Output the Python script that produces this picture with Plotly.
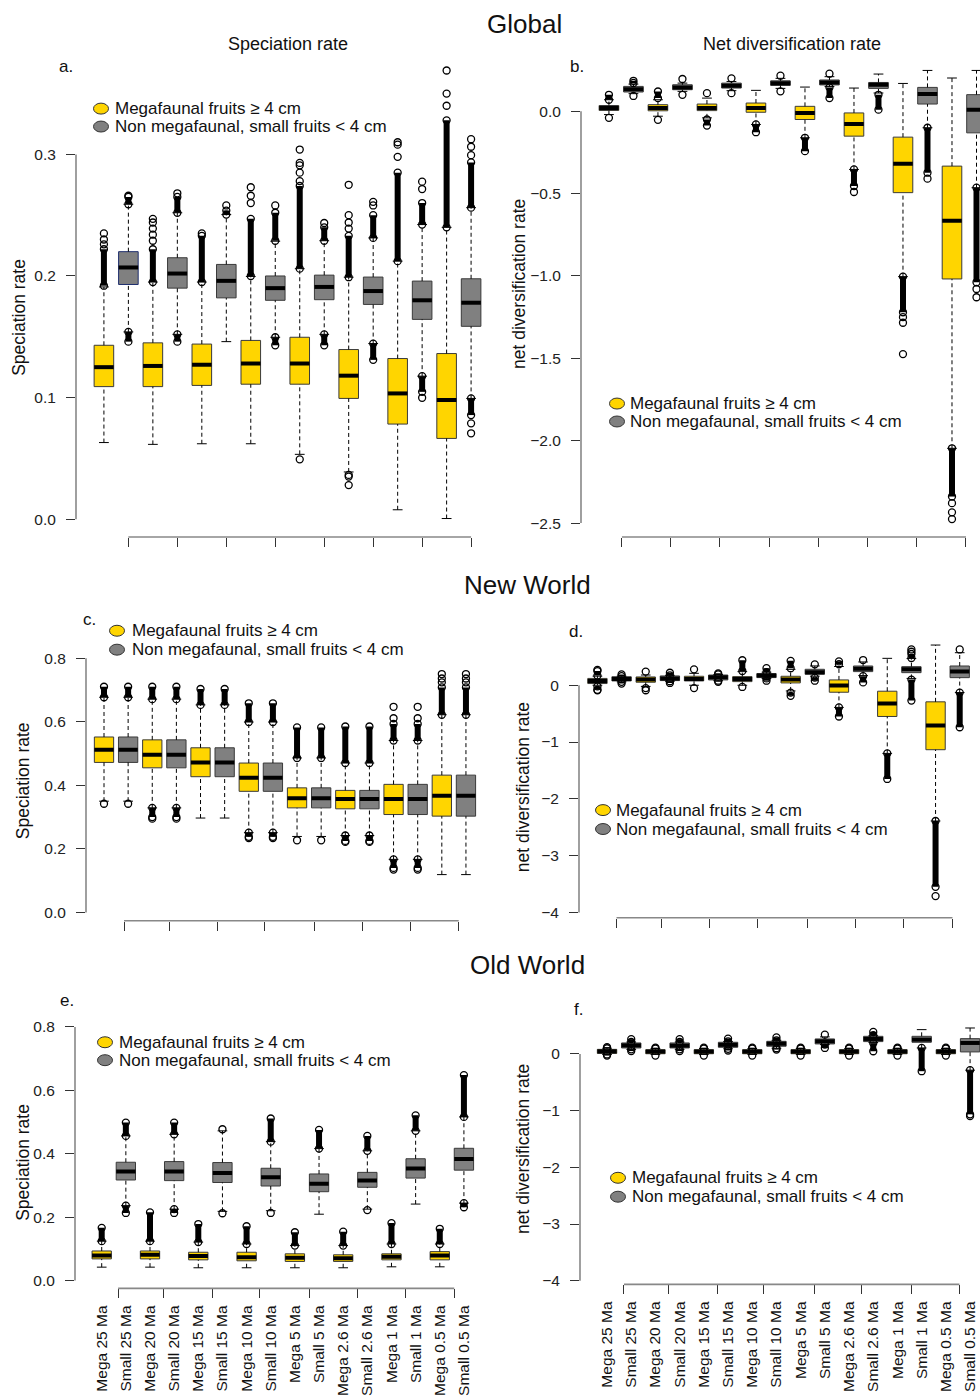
import plotly.graph_objects as go

# ---------------- data ----------------
categories = ["Mega 25 Ma", "Small 25 Ma", "Mega 20 Ma", "Small 20 Ma",
              "Mega 15 Ma", "Small 15 Ma", "Mega 10 Ma", "Small 10 Ma",
              "Mega 5 Ma", "Small 5 Ma", "Mega 2.6 Ma", "Small 2.6 Ma",
              "Mega 1 Ma", "Small 1 Ma", "Mega 0.5 Ma", "Small 0.5 Ma"]
positions = list(range(1, len(categories) + 1))

legend_labels = ["Megafaunal fruits \u2265 4 cm", "Non megafaunal, small fruits < 4 cm"]

# Panel a: Global speciation
a_lo  = [0.063, 0.154, 0.0615, 0.152, 0.062, 0.146, 0.062, 0.1496, 0.0533, 0.152, 0.0388, 0.1444, 0.0077, 0.1176, 0.0005, 0.0993]
a_q1  = [0.109, 0.193, 0.109, 0.190, 0.110, 0.182, 0.111, 0.180, 0.111, 0.1805, 0.0993, 0.1766, 0.0782, 0.1643, 0.0664, 0.1586]
a_med = [0.125, 0.207, 0.126, 0.202, 0.127, 0.196, 0.128, 0.190, 0.128, 0.191, 0.118, 0.1876, 0.1034, 0.180, 0.098, 0.178]
a_q3  = [0.143, 0.220, 0.145, 0.215, 0.144, 0.2095, 0.147, 0.200, 0.1496, 0.2007, 0.1395, 0.1991, 0.1321, 0.1958, 0.1362, 0.1977]
a_hi  = [0.191, 0.259, 0.195, 0.252, 0.195, 0.2505, 0.1996, 0.2286, 0.206, 0.229, 0.199, 0.2313, 0.2122, 0.2423, 0.240, 0.2562]
a_dense = [[[0.192, 0.222]], [[0.259, 0.265], [0.146, 0.154]], [[0.195, 0.222]], [[0.252, 0.265], [0.146, 0.152]],
           [[0.195, 0.233]], [[0.2505, 0.2538]], [[0.200, 0.247]], [[0.229, 0.252], [0.143, 0.1496]],
           [[0.206, 0.274]], [[0.229, 0.240], [0.143, 0.152]], [[0.199, 0.233]], [[0.2313, 0.250], [0.131, 0.1444]],
           [[0.2122, 0.285]], [[0.2423, 0.260], [0.1047, 0.1176]], [[0.240, 0.328]], [[0.2562, 0.2934], [0.0856, 0.0993]]]
a_out = [[0.226, 0.230, 0.235], [0.266], [0.229, 0.234, 0.239, 0.244, 0.247], [0.268],
         [0.235], [0.258], [0.260, 0.266, 0.273], [0.258],
         [0.278, 0.285, 0.291, 0.293, 0.304, 0.0492], [0.2436], [0.239, 0.244, 0.250, 0.275, 0.0364, 0.035, 0.028], [0.258, 0.261],
         [0.298, 0.308, 0.310], [0.2715, 0.2776, 0.0998], [0.340, 0.350, 0.369], [0.2994, 0.3063, 0.3125, 0.0788, 0.0706]]

# Panel b: Global net diversification
b_lo  = [-0.02, 0.107, -0.03, 0.121, -0.04, 0.125, -0.08, 0.139, -0.161, 0.15, -0.353, 0.111, -1.004, -0.1, -2.046, -0.464]
b_q1  = [0.005, 0.117, 0.003, 0.131, 0.004, 0.141, -0.006, 0.157, -0.05, 0.16, -0.151, 0.139, -0.494, 0.044, -1.018, -0.131]
b_med = [0.02, 0.134, 0.02, 0.145, 0.02, 0.155, 0.02, 0.17, -0.01, 0.175, -0.077, 0.161, -0.319, 0.105, -0.665, 0.01]
b_q3  = [0.035, 0.151, 0.04, 0.161, 0.044, 0.171, 0.05, 0.185, 0.03, 0.19, -0.01, 0.175, -0.157, 0.145, -0.333, 0.101]
b_hi  = [0.07, 0.165, 0.07, 0.171, 0.08, 0.181, 0.127, 0.2, 0.147, 0.21, 0.141, 0.226, 0.169, 0.248, 0.202, 0.248]
b_dense = [[[0.07, 0.10]], [[0.172, 0.185]], [[0.08, 0.12]], [],
           [[-0.087, -0.05]], [], [[-0.127, -0.08]], [],
           [[-0.242, -0.161]], [[0.08, 0.145]], [[-0.454, -0.353]], [[0.01, 0.1]],
           [[-1.22, -1.004]], [[-0.373, -0.1]], [[-2.339, -2.046]], [[-1.038, -0.464]]]
b_out = [[-0.04], [0.093], [-0.052], [0.196, 0.10],
         [0.11], [0.2, 0.11], [], [0.216, 0.121],
         [], [0.228], [-0.49], [],
         [-1.25, -1.284, -1.474], [-0.409], [-2.379, -2.435, -2.476], [-1.079, -1.129]]

# Panel c: New World speciation
c_lo  = [0.35, 0.35, 0.329, 0.329, 0.297, 0.297, 0.251, 0.251, 0.239, 0.239, 0.242, 0.242, 0.167, 0.167, 0.119, 0.119]
c_q1  = [0.472, 0.472, 0.455, 0.455, 0.427, 0.427, 0.381, 0.381, 0.329, 0.329, 0.326, 0.326, 0.308, 0.308, 0.303, 0.303]
c_med = [0.512, 0.512, 0.496, 0.496, 0.472, 0.472, 0.424, 0.424, 0.359, 0.359, 0.357, 0.357, 0.357, 0.357, 0.367, 0.367]
c_q3  = [0.552, 0.552, 0.543, 0.543, 0.518, 0.518, 0.47, 0.47, 0.392, 0.392, 0.384, 0.384, 0.403, 0.403, 0.432, 0.432]
c_hi  = [0.677, 0.677, 0.671, 0.671, 0.653, 0.653, 0.599, 0.599, 0.486, 0.486, 0.47, 0.47, 0.541, 0.541, 0.622, 0.622]
c_dense = [[[0.677, 0.71]], [[0.677, 0.71]], [[0.671, 0.71], [0.30, 0.329]], [[0.671, 0.71], [0.30, 0.329]],
           [[0.653, 0.703]], [[0.653, 0.703]], [[0.599, 0.658], [0.238, 0.251]], [[0.599, 0.658], [0.238, 0.251]],
           [[0.486, 0.582]], [[0.486, 0.582]], [[0.47, 0.585], [0.225, 0.242]], [[0.47, 0.585], [0.225, 0.242]],
           [[0.541, 0.593], [0.14, 0.167]], [[0.541, 0.593], [0.14, 0.167]], [[0.622, 0.708]], [[0.622, 0.708]]]
c_out = [[0.342], [0.342], [0.295], [0.295],
         [], [], [0.234], [0.234],
         [0.227], [0.227], [0.222], [0.222],
         [0.611, 0.647, 0.135], [0.611, 0.647, 0.135], [0.724, 0.736, 0.75], [0.724, 0.736, 0.75]]

# Panel d: New World net diversification
d_lo  = [0.0, 0.06, -0.02, 0.07, 0.0, 0.08, 0.0, 0.12, -0.1, 0.16, -0.39, 0.17, -1.2, 0.12, -2.39, -0.129]
d_q1  = [0.03, 0.076, 0.053, 0.082, 0.076, 0.094, 0.064, 0.135, 0.041, 0.193, -0.123, 0.24, -0.55, 0.222, -1.135, 0.134]
d_med = [0.075, 0.11, 0.1, 0.12, 0.11, 0.14, 0.11, 0.17, 0.1, 0.23, -0.006, 0.29, -0.322, 0.28, -0.708, 0.24]
d_q3  = [0.12, 0.15, 0.146, 0.164, 0.158, 0.18, 0.152, 0.205, 0.158, 0.281, 0.094, 0.339, -0.105, 0.327, -0.292, 0.339]
d_hi  = [0.16, 0.16, 0.18, 0.175, 0.21, 0.19, 0.24, 0.23, 0.28, 0.34, 0.33, 0.41, 0.474, 0.47, 0.708, 0.573]
d_dense = [[[0.17, 0.25], [-0.08, -0.02]], [[0.16, 0.19], [0.03, 0.06]], [], [[0.175, 0.22], [0.04, 0.07]],
           [], [[0.19, 0.21], [0.06, 0.08]], [[0.25, 0.44]], [[0.23, 0.3], [0.08, 0.12]],
           [[0.3, 0.43], [-0.187, -0.13]], [[0.08, 0.134]], [[0.37, 0.42], [-0.55, -0.39]], [[0.05, 0.16]],
           [[-1.65, -1.2]], [[0.48, 0.55], [-0.27, 0.1]], [[-3.55, -2.39]], [[-0.74, -0.129]]]
d_out = [[0.27, -0.09], [], [0.24, -0.05, -0.088], [],
         [0.28, -0.05], [], [-0.03], [],
         [], [0.368], [], [0.444],
         [], [0.59, 0.63], [-3.713], [0.63]]

# Panel e: Old World speciation
e_lo  = [0.042, 0.236, 0.042, 0.225, 0.04, 0.218, 0.04, 0.22, 0.04, 0.209, 0.04, 0.225, 0.043, 0.241, 0.043, 0.244]
e_q1  = [0.068, 0.317, 0.068, 0.315, 0.065, 0.309, 0.062, 0.298, 0.06, 0.28, 0.06, 0.294, 0.065, 0.323, 0.065, 0.348]
e_med = [0.079, 0.344, 0.081, 0.344, 0.077, 0.339, 0.073, 0.326, 0.072, 0.305, 0.07, 0.315, 0.075, 0.353, 0.079, 0.383]
e_q3  = [0.093, 0.373, 0.093, 0.375, 0.089, 0.372, 0.089, 0.354, 0.084, 0.336, 0.081, 0.341, 0.084, 0.384, 0.091, 0.417]
e_hi  = [0.124, 0.456, 0.124, 0.461, 0.121, 0.472, 0.115, 0.438, 0.11, 0.416, 0.11, 0.409, 0.115, 0.472, 0.115, 0.516]
e_dense = [[[0.124, 0.166]], [[0.456, 0.498], [0.213, 0.236]], [[0.124, 0.215]], [[0.461, 0.498], [0.213, 0.225]],
           [[0.121, 0.178]], [], [[0.115, 0.171]], [[0.438, 0.511]],
           [[0.11, 0.152]], [[0.416, 0.475]], [[0.11, 0.154]], [[0.409, 0.456]],
           [[0.115, 0.181]], [[0.472, 0.521]], [[0.115, 0.163]], [[0.516, 0.648], [0.231, 0.244]]]
e_out = [[], [], [], [],
         [], [0.477, 0.212], [], [0.213],
         [], [], [], [0.222],
         [], [], [], []]

# Panel f: Old World net diversification
f_lo  = [-0.01, 0.08, -0.01, 0.08, -0.01, 0.09, -0.01, 0.1, -0.01, 0.164, -0.01, 0.2, -0.01, 0.105, -0.01, -0.287]
f_q1  = [0.008, 0.105, 0.003, 0.105, 0.003, 0.117, 0.003, 0.135, 0.003, 0.176, 0.003, 0.217, 0.003, 0.205, 0.003, 0.035]
f_med = [0.045, 0.15, 0.04, 0.146, 0.04, 0.16, 0.04, 0.18, 0.04, 0.222, 0.04, 0.264, 0.04, 0.252, 0.04, 0.193]
f_q3  = [0.08, 0.193, 0.075, 0.193, 0.075, 0.205, 0.075, 0.222, 0.075, 0.264, 0.075, 0.31, 0.075, 0.31, 0.075, 0.269]
f_hi  = [0.1, 0.21, 0.095, 0.21, 0.095, 0.22, 0.095, 0.24, 0.095, 0.3, 0.095, 0.32, 0.095, 0.428, 0.095, 0.457]
f_dense = [[[0.1, 0.12], [-0.03, -0.01]], [[0.21, 0.26], [0.05, 0.08]], [[0.095, 0.11]], [[0.21, 0.26], [0.05, 0.08]],
           [[0.095, 0.11]], [[0.22, 0.27], [0.06, 0.09]], [[0.095, 0.11]], [[0.24, 0.29], [0.076, 0.1]],
           [[0.095, 0.11]], [[0.105, 0.164]], [[0.095, 0.11]], [[0.33, 0.387], [0.047, 0.19]],
           [[0.095, 0.11]], [[-0.305, 0.105]], [[0.095, 0.11]], [[-1.066, -0.287]]]
f_out = [[], [], [-0.03], [],
         [-0.03], [], [-0.03], [],
         [-0.03], [0.34], [-0.03], [],
         [-0.03], [], [-0.03], [-1.095]]

# axis tick values
a_yticks = [0.0, 0.1, 0.2, 0.3]
b_yticks = [0.0, -0.5, -1.0, -1.5, -2.0, -2.5]
c_yticks = [0.0, 0.2, 0.4, 0.6, 0.8]
d_yticks = [0, -1, -2, -3, -4]
e_yticks = [0.0, 0.2, 0.4, 0.6, 0.8]
f_yticks = [0, -1, -2, -3, -4]
a_xticks = [2, 4, 6, 8, 10, 12, 14, 16]
b_xticks = [1.53, 3.53, 5.53, 7.57, 9.57, 11.57, 13.57, 15.57]
c_xticks = [1.83, 3.71, 5.70, 7.65, 9.72, 11.70, 13.70, 15.70]
d_xticks = [1.79, 3.66, 5.66, 7.63, 9.69, 11.69, 13.68, 15.70]
e_xticks = [1.68, 3.56, 5.59, 7.52, 9.62, 11.60, 13.59, 15.60]
f_xticks = [1.70, 3.54, 5.57, 7.48, 9.56, 11.53, 13.56, 15.56]

# ---------------- styling ----------------
YELLOW = "#FFD500"
GRAY = "#808080"
BORDER = "#3a3a3a"
FONT = "Liberation Sans, Arial, Helvetica, sans-serif"
W, H = 980, 1398

# panel geometry in pixels: (left, right, top, bottom), x range, y range
panels = {
    1: dict(px=(76, 499, 51, 539), xr=[-0.14, 17.14], yr=[-0.01475, 0.3852]),
    2: dict(px=(581, 980, 52, 539), xr=[-0.14, 16.143], yr=[-2.585, 0.361]),
    3: dict(px=(86, 484, 650, 924), xr=[0.254, 16.748], yr=[-0.026, 0.833]),
    4: dict(px=(579, 980, 640, 921), xr=[0.237, 16.84], yr=[-4.093, 0.837]),
    5: dict(px=(75, 490, 1022, 1293), xr=[-0.106, 17.08], yr=[-0.025, 0.827]),
    6: dict(px=(580, 980, 1010, 1289), xr=[-0.117, 16.41], yr=[-4.065, 0.838]),
}

fig = go.Figure()


def axname(n, letter):
    return letter if n == 1 else f"{letter}{n}"


def add_panel(n, lo, q1, med, q3, hi, dense, out, small_border=None):
    xa, ya = axname(n, "x"), axname(n, "y")
    common = dict(xaxis=xa, yaxis=ya, showlegend=False, hoverinfo="skip")
    for grp, color, name in ((0, YELLOW, legend_labels[0]), (1, GRAY, legend_labels[1])):
        idx = [i for i in range(len(positions)) if i % 2 == grp]
        lcol = BORDER
        if grp == 1 and small_border is not None:
            lcol = [small_border[k] for k in range(len(idx))]
        fig.add_trace(go.Bar(
            x=[positions[i] for i in idx],
            base=[q1[i] for i in idx],
            y=[q3[i] - q1[i] for i in idx],
            width=0.8, name=name,
            marker=dict(color=color, line=dict(color=lcol, width=1)),
            **common))
    # dashed whiskers
    wx, wy = [], []
    for i, p in enumerate(positions):
        wx += [p, p, None, p, p, None]
        wy += [lo[i], q1[i], None, q3[i], hi[i], None]
    fig.add_trace(go.Scatter(x=wx, y=wy, mode="lines",
                             line=dict(color="black", width=1, dash="4px,3px"), **common))
    # staples
    sx, sy = [], []
    for i, p in enumerate(positions):
        sx += [p - 0.2, p + 0.2, None, p - 0.2, p + 0.2, None]
        sy += [lo[i], lo[i], None, hi[i], hi[i], None]
    fig.add_trace(go.Scatter(x=sx, y=sy, mode="lines",
                             line=dict(color="black", width=1), **common))
    # medians
    mx, my = [], []
    for i, p in enumerate(positions):
        mx += [p - 0.4, p + 0.4, None]
        my += [med[i], med[i], None]
    fig.add_trace(go.Scatter(x=mx, y=my, mode="lines",
                             line=dict(color="black", width=4), **common))
    # dense runs of outliers (overlapping circles)
    dx, dy, ex, ey = [], [], [], []
    for i, p in enumerate(positions):
        for lo_v, hi_v in dense[i]:
            dx += [p, p, None]
            dy += [lo_v, hi_v, None]
            ex += [p, p]
            ey += [lo_v, hi_v]
    fig.add_trace(go.Scatter(x=dx, y=dy, mode="lines",
                             line=dict(color="black", width=6), **common))
    # individual outliers
    ox, oy = [], []
    for i, p in enumerate(positions):
        for v in out[i]:
            ox.append(p)
            oy.append(v)
    fig.add_trace(go.Scatter(x=ox + ex, y=oy + ey, mode="markers",
                             marker=dict(symbol="circle-open", size=7, color="black",
                                         line=dict(width=1.3)), **common))


small_border_a = ["#1f2f6e"] + [BORDER] * 7
add_panel(1, a_lo, a_q1, a_med, a_q3, a_hi, a_dense, a_out, small_border_a)
add_panel(2, b_lo, b_q1, b_med, b_q3, b_hi, b_dense, b_out)
add_panel(3, c_lo, c_q1, c_med, c_q3, c_hi, c_dense, c_out)
add_panel(4, d_lo, d_q1, d_med, d_q3, d_hi, d_dense, d_out)
add_panel(5, e_lo, e_q1, e_med, e_q3, e_hi, e_dense, e_out)
add_panel(6, f_lo, f_q1, f_med, f_q3, f_hi, f_dense, f_out)

# dummy traces for the label axes of panels e and f
fig.add_trace(go.Scatter(x=positions, y=[None] * len(positions), xaxis="x7", yaxis="y5",
                         mode="markers", showlegend=False, hoverinfo="skip"))
fig.add_trace(go.Scatter(x=positions, y=[None] * len(positions), xaxis="x8", yaxis="y6",
                         mode="markers", showlegend=False, hoverinfo="skip"))

yticks = {1: (a_yticks, ".1f"), 2: (b_yticks, ".1f"), 3: (c_yticks, ".1f"),
          4: (d_yticks, "d"), 5: (e_yticks, ".1f"), 6: (f_yticks, "d")}
xticks = {1: a_xticks, 2: b_xticks, 3: c_xticks, 4: d_xticks, 5: e_xticks, 6: f_xticks}

layout = dict(
    width=W, height=H, margin=dict(l=0, r=0, t=0, b=0),
    paper_bgcolor="white", plot_bgcolor="rgba(0,0,0,0)", showlegend=False,
    barmode="overlay", font=dict(family=FONT, color="#222"),
)

shapes = []
for n, p in panels.items():
    L, R, T, B = p["px"]
    xd = [L / W, R / W]
    yd = [1 - B / H, 1 - T / H]
    tv, fmt = yticks[n]
    layout[("xaxis" if n == 1 else f"xaxis{n}")] = dict(
        domain=xd, range=p["xr"], anchor=axname(n, "y"), showgrid=False, zeroline=False,
        showline=False, ticks="outside", ticklen=9, tickwidth=1, tickcolor="#333",
        tickvals=xticks[n], showticklabels=False, fixedrange=True)
    layout[("yaxis" if n == 1 else f"yaxis{n}")] = dict(
        domain=yd, range=p["yr"], anchor=axname(n, "x"), showgrid=False, zeroline=False,
        showline=False, ticks="outside", ticklen=9, tickwidth=1, tickcolor="#333",
        tickvals=tv, tickformat=fmt, tickfont=dict(size=15.5, color="#222", family=FONT),
        ticklabelstandoff=7, fixedrange=True)
    xr, yr = p["xr"], p["yr"]
    xdom = "x domain" if n == 1 else f"x{n} domain"
    ydom = "y domain" if n == 1 else f"y{n} domain"
    # R-style axis lines spanning first to last tick
    shapes.append(dict(type="line", xref=xdom, yref=ydom, x0=0, x1=0,
                       y0=(min(tv) - yr[0]) / (yr[1] - yr[0]), y1=(max(tv) - yr[0]) / (yr[1] - yr[0]),
                       line=dict(color="#888", width=1.6)))
    xt = xticks[n]
    shapes.append(dict(type="line", xref=xdom, yref=ydom, y0=0, y1=0,
                       x0=(min(xt) - xr[0]) / (xr[1] - xr[0]), x1=(max(xt) - xr[0]) / (xr[1] - xr[0]),
                       line=dict(color="#888", width=1.6)))

for n_lab, base in ((7, 5), (8, 6)):
    layout[f"xaxis{n_lab}"] = dict(
        overlaying=f"x{base}", anchor=f"y{base}", side="bottom", range=panels[base]["xr"],
        showgrid=False, zeroline=False, showline=False, ticks="",
        tickvals=positions, ticktext=categories, tickangle=-90,
        tickfont=dict(size=15.5, color="#111", family=FONT), ticklabelstandoff=13, fixedrange=True)

ann = []


def txt(text, x, y, size, angle=0, xanchor="center"):
    ann.append(dict(text=text, x=x / W, y=1 - y / H, xref="paper", yref="paper",
                    showarrow=False, xanchor=xanchor, yanchor="middle", textangle=angle,
                    font=dict(size=size, color="#111", family=FONT)))


# legend keys (ellipse + label) per panel: key centre x, row y's, text start x
legend_spots = [(101, 109, 127, 113), (617, 405, 423, 628), (117, 633, 652, 130),
                (603, 813, 832, 614), (105, 1046, 1064, 117), (618, 1182, 1201, 630)]
for kx, r1, r2, tx in legend_spots:
    for ry, col, lab in ((r1, YELLOW, legend_labels[0]), (r2, GRAY, legend_labels[1])):
        shapes.append(dict(type="circle", xref="paper", yref="paper",
                           x0=(kx - 7.5) / W, x1=(kx + 7.5) / W,
                           y0=1 - (ry + 5.5) / H, y1=1 - (ry - 5.5) / H,
                           fillcolor=col, line=dict(color="#333", width=1)))
        txt(lab, tx, ry, 17, xanchor="left")

layout["shapes"] = shapes

txt("Global", 524, 24, 26)
txt("New World", 527, 587, 26)
txt("Old World", 527, 968, 26)
txt("Speciation rate", 288, 44, 18)
txt("Net diversification rate", 792, 44, 18)
txt("a.", 66, 67, 17)
txt("b.", 577, 67, 17)
txt("c.", 89, 622, 17)
txt("d.", 576, 634, 17)
txt("e.", 67, 1004, 17)
txt("f.", 578, 1013, 17)
txt("Speciation rate", 19, 319, 17.5, -90)
txt("net diversification rate", 519, 285, 17.5, -90)
txt("Speciation rate", 23, 784, 17.5, -90)
txt("net diversification rate", 523, 790, 17.5, -90)
txt("Speciation rate", 23, 1167, 17.5, -90)
txt("net diversification rate", 523, 1153, 17.5, -90)
layout["annotations"] = ann

fig.update_layout(**layout)
fig.write_html("out.html")
